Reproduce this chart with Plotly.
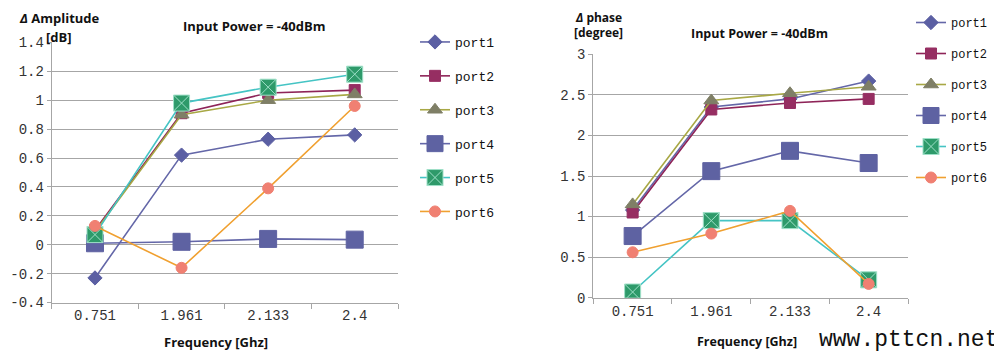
import plotly.graph_objects as go

freqs = ["0.751", "1.961", "2.133", "2.4"]
ports = ["port1", "port2", "port3", "port4", "port5", "port6"]

amp_port1 = [-0.23, 0.62, 0.73, 0.76]
amp_port2 = [0.10, 0.91, 1.05, 1.07]
amp_port3 = [0.09, 0.90, 1.00, 1.04]
amp_port4 = [0.01, 0.02, 0.04, 0.035]
amp_port5 = [0.07, 0.98, 1.09, 1.18]
amp_port6 = [0.13, -0.16, 0.39, 0.96]

ph_port1 = [1.08, 2.35, 2.45, 2.67]
ph_port2 = [1.05, 2.32, 2.40, 2.45]
ph_port3 = [1.15, 2.43, 2.52, 2.60]
ph_port4 = [0.76, 1.56, 1.81, 1.66]
ph_port5 = [0.07, 0.95, 0.95, 0.22]
ph_port6 = [0.56, 0.79, 1.07, 0.17]

amp_ticks = [-0.4, -0.2, 0, 0.2, 0.4, 0.6, 0.8, 1, 1.2, 1.4]
ph_ticks = [0, 0.5, 1, 1.5, 2, 2.5, 3]

amp = [amp_port1, amp_port2, amp_port3, amp_port4, amp_port5, amp_port6]
ph = [ph_port1, ph_port2, ph_port3, ph_port4, ph_port5, ph_port6]

styles = [
    dict(line="#6467A8", fill="#5B5FA3", sym="diamond", size=11, mline="#5B5FA3"),
    dict(line="#8E2458", fill="#962E62", sym="square", size=11, mline="#962E62"),
    dict(line="#A8A845", fill="#7F7F66", sym="triangle-up", size=13, mline="#7F7F66"),
    dict(line="#6467A8", fill="#5E62A2", sym="square", size=17, mline="#5E62A2"),
    dict(line="#45C4C4", fill="#2E9A6A", sym="square-x", size=16, mline="#9FE0C8"),
    dict(line="#F0A030", fill="#F08072", sym="circle", size=11, mline="#F08072"),
]

# page body has an 8px margin, so the figure is drawn 8px in from the window edge
W, H, OFF = 994, 349, 8


def px(X):
    return (X - OFF) / W


def py(Y):
    return 1 - (Y - OFF) / H


fig = go.Figure()
mono = "Liberation Mono"

for i, name in enumerate(ports):
    s = styles[i]
    for data, xa, ya, lg in [(amp[i], "x", "y", "legend"), (ph[i], "x2", "y2", "legend2")]:
        fig.add_trace(go.Scatter(
            x=freqs, y=data, name=name, mode="lines+markers",
            xaxis=xa, yaxis=ya, legend=lg, legendgroup=name + lg,
            line=dict(color=s["line"], width=1.6),
            marker=dict(symbol=s["sym"], size=s["size"], color=s["fill"],
                        line=dict(color=s["mline"], width=1)),
        ))

grid = "#A6A6A6"
common_x = dict(type="category", range=[-0.5, 3.5], showgrid=False, showline=True,
                linecolor=grid, linewidth=1, ticks="outside", tickson="boundaries",
                ticklen=5, tickcolor=grid, tickfont=dict(family=mono, size=14, color="#333"),
                zeroline=False, fixedrange=True, automargin=False)
common_y = dict(showgrid=True, gridcolor=grid, gridwidth=1, showline=True, linecolor=grid,
                ticks="outside", ticklen=4, tickcolor=grid,
                tickfont=dict(family=mono, size=14, color="#333"), zeroline=False,
                fixedrange=True, automargin=False)

fig.update_layout(
    width=W, height=H, margin=dict(l=0, r=0, t=0, b=0, autoexpand=False),
    paper_bgcolor="white", plot_bgcolor="white", showlegend=True,
    xaxis=dict(domain=[px(51.7), px(398)], anchor="y", **common_x),
    yaxis=dict(domain=[py(302.5), py(42.4)], anchor="x", range=[-0.4, 1.4], tickvals=amp_ticks,
               ticktext=["-0.4", "-0.2", "0", "0.2", "0.4", "0.6", "0.8", "1", "1.2", "1.4"], **common_y),
    xaxis2=dict(domain=[px(593.3), px(908)], anchor="y2", **common_x),
    yaxis2=dict(domain=[py(297.7), py(54.3)], anchor="x2", range=[0, 3], tickvals=ph_ticks,
                ticktext=["0", "0.5", "1", "1.5", "2", "2.5", "3"], **common_y),
    legend=dict(x=px(415), y=py(27), xanchor="left", yanchor="top", tracegroupgap=14,
                font=dict(family=mono, size=13, color="#111"), bgcolor="rgba(0,0,0,0)",
                itemwidth=30),
    legend2=dict(x=px(993), y=1.0, xanchor="right", yanchor="top", tracegroupgap=12,
                 font=dict(family=mono, size=12, color="#111"), bgcolor="rgba(0,0,0,0)",
                 itemwidth=30),
)

ann = [
    dict(x=18, y=8, text="<b><i>Δ</i> Amplitude</b>", xanchor="left", ya="top", fs=13),
    dict(x=45, y=37, text="<b>[dB]</b>", xanchor="left", ya="middle", fs=13),
    dict(x=254, y=26, text="<b>Input Power = -40dBm</b>", xanchor="center", ya="middle", fs=13),
    dict(x=216, y=342, text="<b>Frequency [Ghz]</b>", xanchor="center", ya="middle", fs=13),
    dict(x=598, y=8, text="<b><i>Δ</i> phase</b>", xanchor="center", ya="top", fs=12),
    dict(x=598, y=33, text="<b>[degree]</b>", xanchor="center", ya="middle", fs=12),
    dict(x=759, y=33.5, text="<b>Input Power = -40dBm</b>", xanchor="center", ya="middle", fs=12.5),
    dict(x=747, y=341, text="<b>Frequency [Ghz]</b>", xanchor="center", ya="middle", fs=12.5),
]
for a in ann:
    fig.add_annotation(x=px(a["x"]), y=py(a["y"]), xref="paper", yref="paper",
                       text=a["text"], xanchor=a["xanchor"], yanchor=a["ya"],
                       showarrow=False, borderpad=0,
                       font=dict(family="Open Sans", size=a["fs"], color="#111"))
fig.add_annotation(x=px(1000), y=py(340), xref="paper", yref="paper", text="www.pttcn.net",
                   xanchor="right", yanchor="middle", showarrow=False,
                   font=dict(family=mono, size=23, color="#111"))

fig.write_html("out.html")
